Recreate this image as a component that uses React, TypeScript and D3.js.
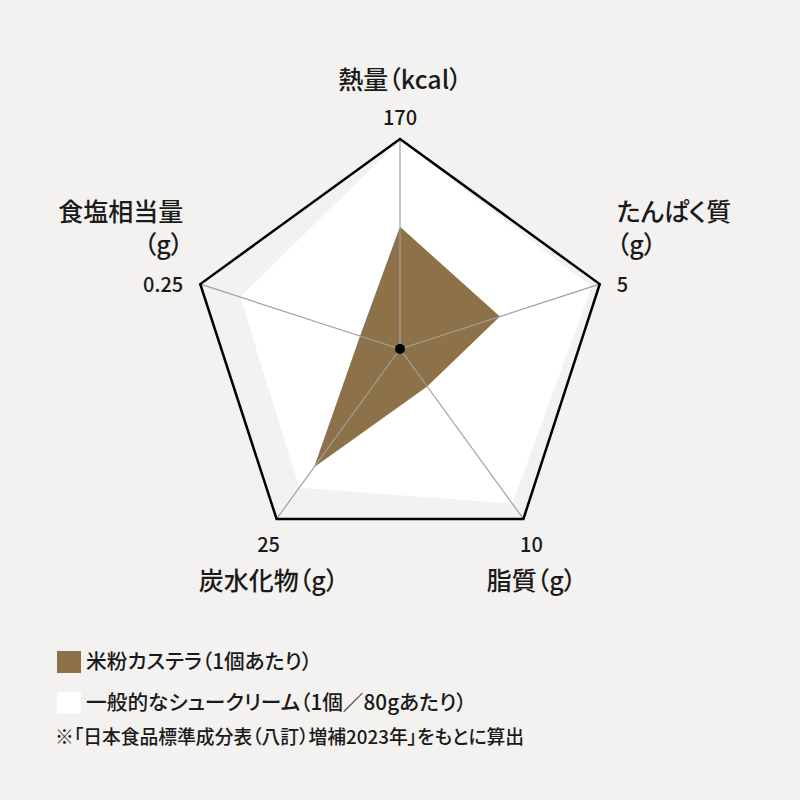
import { useEffect, useRef } from "react"
import * as d3 from "d3"

// 軸（上から時計回り）
const axisLabels = [["熱量（kcal）"], ["たんぱく質", "（g）"], ["脂質（g）"], ["炭水化物（g）"], ["食塩相当量", "（g）"]]
const axisMax = [170, 5, 10, 25, 0.25]
const tickLabels = ["170", "5", "10", "25", "0.25"]

// 米粉カステラ（1個あたり）
const castella = [99, 2.5, 2.2, 17.4, 0.05]
// 一般的なシュークリーム（1個／80gあたり）
const creamPuff = [169, 4.8, 9.1, 20.4, 0.2]

const legendLabels = ["米粉カステラ（1個あたり）", "一般的なシュークリーム（1個／80gあたり）"]
const footnote = "※「日本食品標準成分表（八訂）増補2023年」をもとに算出"

const COLORS = {
  bg: "#f3f2f0",
  brown: "#8d7148",
  white: "#ffffff",
  axis: "#a0a0a0",
  text: "#1a1a1a",
}

const FONT = "'Noto Sans CJK JP', 'Noto Sans', sans-serif"

export default function App() {
  const svgRef = useRef<SVGSVGElement>(null)

  useEffect(() => {
    if (!svgRef.current) return
    const svg = d3.select(svgRef.current)
    svg.selectAll("*").remove()

    const cx = 400
    const cy = 349
    const R = 210
    const n = axisMax.length
    const angle = d3.scaleLinear().domain([0, n]).range([0, 2 * Math.PI])

    // 各軸のスケール
    const scales = axisMax.map((m) => d3.scaleLinear().domain([0, m]).range([0, R]))

    svg.append("rect").attr("width", 800).attr("height", 800).attr("fill", COLORS.bg)

    const g = svg.append("g").attr("transform", `translate(${cx},${cy})`)

    const radial = d3
      .lineRadial<number>()
      .angle((_d, i) => angle(i))
      .radius((d, i) => scales[i](d))
      .curve(d3.curveLinearClosed)

    // シュークリーム
    g.append("path").datum(creamPuff).attr("d", radial).attr("fill", COLORS.white)
    // カステラ
    g.append("path").datum(castella).attr("d", radial).attr("fill", COLORS.brown)

    // 軸線
    const pt = (i: number, r: number) => [r * Math.sin(angle(i)), -r * Math.cos(angle(i))]
    axisMax.forEach((m, i) => {
      const [x, y] = pt(i, scales[i](m))
      g.append("line")
        .attr("x1", 0)
        .attr("y1", 0)
        .attr("x2", x)
        .attr("y2", y)
        .attr("stroke", COLORS.axis)
        .attr("stroke-width", 1.2)
    })

    // 外枠
    g.append("path")
      .datum(axisMax)
      .attr("d", radial)
      .attr("fill", "none")
      .attr("stroke", "#000")
      .attr("stroke-width", 2.5)
      .attr("stroke-linejoin", "miter")

    g.append("circle").attr("r", 5).attr("fill", "#000")

    const text = (x: number, y: number, s: string, size: number, anchor: string) =>
      svg
        .append("text")
        .attr("x", x)
        .attr("y", y)
        .attr("font-family", FONT)
        .attr("font-size", size)
        .attr("font-weight", 500)
        .attr("fill", COLORS.text)
        .attr("text-anchor", anchor)
        .style("font-feature-settings", "'palt'")
        .text(s)

    // ラベル配置（頂点からのオフセット）
    const labelPos = [
      { dx: 0, anchor: "middle" },
      { dx: 17, anchor: "start" },
      { dx: 8, anchor: "middle" },
      { dx: -8, anchor: "middle" },
      { dx: -17, anchor: "end" },
    ]
    axisMax.forEach((m, i) => {
      const [x, y] = pt(i, scales[i](m))
      const p = labelPos[i]
      const vx = cx + x + p.dx
      const vy = cy + y
      if (i === 0) {
        text(vx, cy - R - 50, axisLabels[i][0], 25, "middle")
        text(vx, cy - R - 14, tickLabels[i], 20, "middle")
      } else if (i === 1 || i === 4) {
        text(vx, vy - 63, axisLabels[i][0], 25, p.anchor)
        text(vx, vy - 30, axisLabels[i][1], 25, p.anchor)
        text(vx, vy + 8, tickLabels[i], 20, p.anchor)
      } else {
        text(vx, vy + 33, tickLabels[i], 20, "middle")
        text(vx, vy + 71, axisLabels[i][0], 25, "middle")
      }
    })

    // 凡例
    const legendColors = [COLORS.brown, COLORS.white]
    legendLabels.forEach((s, i) => {
      const y = 651 + i * 41
      svg.append("rect").attr("x", 57).attr("y", y).attr("width", 24).attr("height", 22).attr("fill", legendColors[i])
      text(86, y + 18, s, 20.7, "start")
    })
    text(55, 744, footnote, 18.8, "start")
  }, [])

  return (
    <svg
      ref={svgRef}
      width={800}
      height={800}
      style={{ position: "absolute", left: 0, top: 0 }}
    />
  )
}
